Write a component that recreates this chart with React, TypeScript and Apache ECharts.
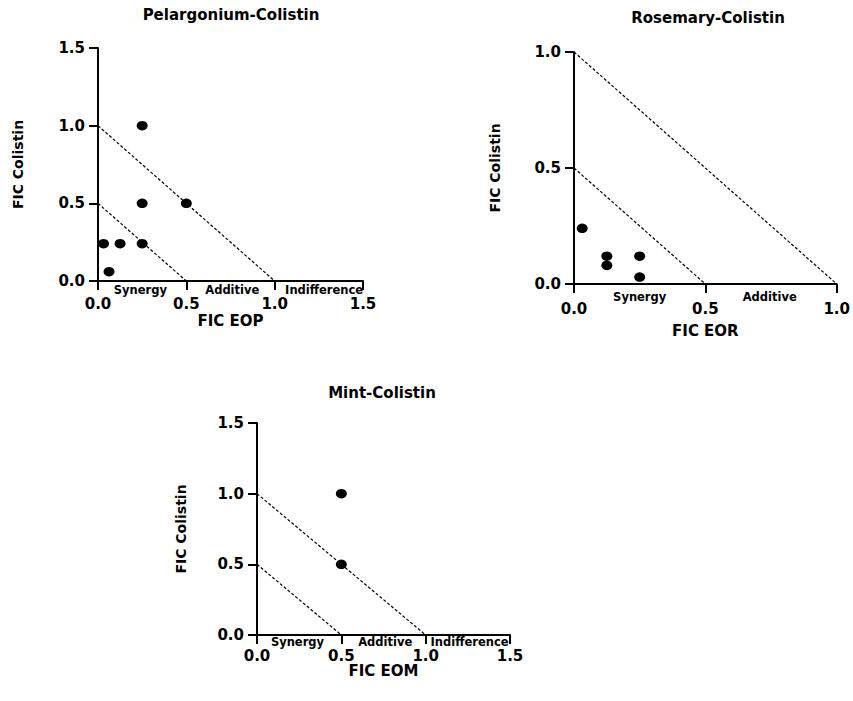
import React, { useEffect, useRef } from "react";
import * as echarts from "echarts";

const titles = ["Pelargonium-Colistin", "Rosemary-Colistin", "Mint-Colistin"];
const xNames = ["FIC EOP", "FIC EOR", "FIC EOM"];
const yName = "FIC Colistin";
const axisMax = [1.5, 1.0, 1.5];
const tickStep = 0.5;

const pelargoniumPoints = [
  [0.03125, 0.24],
  [0.0625, 0.06],
  [0.125, 0.24],
  [0.25, 0.24],
  [0.25, 0.5],
  [0.25, 1.0],
  [0.5, 0.5],
];
const rosemaryPoints = [
  [0.03125, 0.24],
  [0.125, 0.12],
  [0.125, 0.08],
  [0.25, 0.12],
  [0.25, 0.03],
];
const mintPoints = [
  [0.5, 1.0],
  [0.5, 0.5],
];
const pointSets = [pelargoniumPoints, rosemaryPoints, mintPoints];

const additiveLine = [
  [0, 1],
  [1, 0],
];
const synergyLine = [
  [0, 0.5],
  [0.5, 0],
];

const regionNames3 = ["Synergy", "Additive", "Indifference"];
const regionNames2 = ["Synergy", "Additive"];
const regionSets = [regionNames3, regionNames2, regionNames3];
// label anchors on the x axis (data units) for each region name
const regionAnchors3 = [0.24, 0.76, 1.28];
const regionAnchors2 = [0.25, 0.745];
const regionAnchorSets = [regionAnchors3, regionAnchors2, [0.24, 0.76, 1.26]];

// layout (pixels)
const grids = [
  { left: 98, top: 48, width: 265, height: 233 },
  { left: 574, top: 52, width: 267, height: 232 },
  { left: 257, top: 423, width: 253, height: 212 },
];
const titlePos = [
  [231, 15],
  [708, 18],
  [382, 393],
];
const xLabelMargin = [15, 17, 13];
const xNameGap = [32, 39, 28];
const yNameGap = [73, 72, 69];
const regionDist = [3, 7, 1];

const FONT = "DejaVu Sans";

export default function App() {
  const ref = useRef<HTMLDivElement>(null);
  useEffect(() => {
    document.body.style.margin = "0";
    if (!ref.current) return;
    const chart = echarts.init(ref.current, undefined, { renderer: "svg" });
    const axisLine = { show: true, onZero: false, lineStyle: { color: "#000", width: 2 } };
    const axisTick = { show: true, length: 9, lineStyle: { color: "#000", width: 2 } };
    const fmt = (v: number) => v.toFixed(1);

    const xAxis = grids.map((_, i) => ({
      type: "value",
      gridIndex: i,
      min: 0,
      max: axisMax[i],
      interval: tickStep,
      name: xNames[i],
      nameLocation: "middle",
      nameGap: xNameGap[i],
      nameTextStyle: { color: "#000", fontFamily: FONT, fontWeight: "bold", fontSize: 15 },
      axisLine,
      axisTick,
      splitLine: { show: false },
      axisLabel: {
        color: "#000",
        fontFamily: FONT,
        fontWeight: "bold",
        fontSize: 15,
        margin: xLabelMargin[i],
        formatter: fmt,
      },
    }));
    const yAxis = grids.map((_, i) => ({
      type: "value",
      gridIndex: i,
      min: 0,
      max: axisMax[i],
      interval: tickStep,
      name: yName,
      nameLocation: "middle",
      nameGap: yNameGap[i],
      nameTextStyle: { color: "#000", fontFamily: FONT, fontWeight: "bold", fontSize: 14 },
      axisLine,
      axisTick,
      splitLine: { show: false },
      axisLabel: {
        color: "#000",
        fontFamily: FONT,
        fontWeight: "bold",
        fontSize: 15,
        margin: 13,
        formatter: fmt,
      },
    }));

    const series: any[] = [];
    grids.forEach((_, i) => {
      [additiveLine, synergyLine].forEach((ln) => {
        series.push({
          type: "line",
          xAxisIndex: i,
          yAxisIndex: i,
          data: ln,
          showSymbol: false,
          symbol: "none",
          silent: true,
          z: 3,
          lineStyle: { color: "#000", width: 1.2, type: [3, 2], opacity: 1 },
        });
      });
      series.push({
        type: "scatter",
        xAxisIndex: i,
        yAxisIndex: i,
        data: pointSets[i],
        symbol: "circle",
        symbolSize: [11, 9.5],
        itemStyle: { color: "#000", opacity: 1 },
        z: 5,
      });
      series.push({
        type: "scatter",
        xAxisIndex: i,
        yAxisIndex: i,
        silent: true,
        clip: false,
        symbolSize: 0,
        itemStyle: { opacity: 1 },
        data: regionSets[i].map((name, k) => ({
          name,
          value: [regionAnchorSets[i][k], 0],
        })),
        label: {
          show: true,
          position: "bottom",
          distance: regionDist[i],
          formatter: (p: any) => p.name,
          color: "#000",
          opacity: 1,
          fontFamily: FONT,
          fontWeight: "bold",
          fontSize: 11.5,
        },
        z: 6,
      });
    });

    chart.setOption({
      animation: false,
      backgroundColor: "#fff",
      grid: grids.map((g) => ({ ...g, containLabel: false })),
      xAxis,
      yAxis,
      series,
      graphic: titles.map((t, i) => ({
        type: "text",
        x: titlePos[i][0],
        y: titlePos[i][1],
        style: {
          text: t,
          align: "center",
          verticalAlign: "middle",
          fill: "#000",
          font: `bold 15px "${FONT}"`,
        },
      })),
    });
    return () => chart.dispose();
  }, []);
  return <div ref={ref} style={{ width: 853, height: 701 }} />;
}
